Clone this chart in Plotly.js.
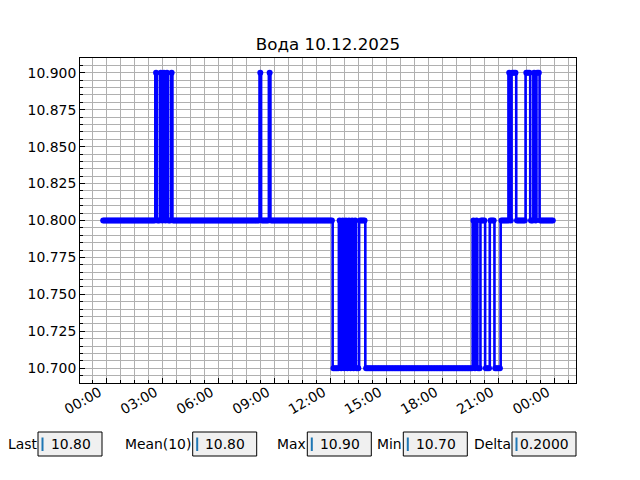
<!DOCTYPE html>
<html>
<head>
<meta charset="utf-8">
<script src="https://cdn.plot.ly/plotly-3.0.1.min.js"></script>
<style>html,body{margin:0;padding:0;background:#fff;}#chart{width:640px;height:480px;}</style>
</head>
<body>
<div id="chart"></div>
<script>
// ---- data ----
const chartTitle = 'Вода 10.12.2025';
const sampleStart = '2025-12-09T23:50:00Z';   // first reading
const sampleStepMinutes = 5;                   // logging interval
// water level readings, one row per hour (12 readings)
const levels = [
  10.8,10.8,10.8,10.8,10.8,10.8,10.8,10.8,10.8,10.8,10.8,10.8,
  10.8,10.8,10.8,10.8,10.8,10.8,10.8,10.8,10.8,10.8,10.8,10.8,
  10.8,10.8,10.8,10.8,10.8,10.8,10.8,10.8,10.8,10.8,10.9,10.8,
  10.8,10.9,10.8,10.9,10.8,10.9,10.8,10.8,10.9,10.8,10.8,10.8,
  10.8,10.8,10.8,10.8,10.8,10.8,10.8,10.8,10.8,10.8,10.8,10.8,
  10.8,10.8,10.8,10.8,10.8,10.8,10.8,10.8,10.8,10.8,10.8,10.8,
  10.8,10.8,10.8,10.8,10.8,10.8,10.8,10.8,10.8,10.8,10.8,10.8,
  10.8,10.8,10.8,10.8,10.8,10.8,10.8,10.8,10.8,10.8,10.8,10.8,
  10.8,10.8,10.8,10.8,10.8,10.9,10.8,10.8,10.8,10.8,10.8,10.9,
  10.8,10.8,10.8,10.8,10.8,10.8,10.8,10.8,10.8,10.8,10.8,10.8,
  10.8,10.8,10.8,10.8,10.8,10.8,10.8,10.8,10.8,10.8,10.8,10.8,
  10.8,10.8,10.8,10.8,10.8,10.8,10.8,10.8,10.8,10.8,10.8,10.8,
  10.8,10.8,10.8,10.8,10.7,10.7,10.7,10.7,10.8,10.7,10.8,10.7,
  10.8,10.7,10.8,10.7,10.8,10.7,10.8,10.7,10.7,10.8,10.8,10.8,
  10.8,10.7,10.7,10.7,10.7,10.7,10.7,10.7,10.7,10.7,10.7,10.7,
  10.7,10.7,10.7,10.7,10.7,10.7,10.7,10.7,10.7,10.7,10.7,10.7,
  10.7,10.7,10.7,10.7,10.7,10.7,10.7,10.7,10.7,10.7,10.7,10.7,
  10.7,10.7,10.7,10.7,10.7,10.7,10.7,10.7,10.7,10.7,10.7,10.7,
  10.7,10.7,10.7,10.7,10.7,10.7,10.7,10.7,10.7,10.7,10.7,10.7,
  10.7,10.7,10.7,10.7,10.7,10.7,10.7,10.7,10.7,10.7,10.8,10.7,
  10.8,10.7,10.7,10.8,10.8,10.8,10.7,10.7,10.7,10.8,10.8,10.8,
  10.7,10.7,10.7,10.7,10.8,10.8,10.8,10.8,10.8,10.9,10.8,10.9,
  10.9,10.9,10.8,10.8,10.8,10.8,10.8,10.8,10.9,10.9,10.9,10.8,
  10.8,10.9,10.8,10.9,10.9,10.8,10.8,10.8,10.8,10.8,10.8,10.8,
  10.8,10.8
];
const yTickFormat = '.3f';
const widgetLabels = ['Last', 'Mean(10)', 'Max', 'Min', 'Delta'];
const widgetValues = ['10.80', '10.80', '10.90', '10.70', '0.2000'];

// ---- build timestamps for the readings ----
const t0 = Date.parse(sampleStart);
const times = levels.map((_, i) =>
  new Date(t0 + i * sampleStepMinutes * 60000).toISOString().replace('T', ' ').slice(0, 19));

// ---- layout geometry (pixels) ----
const W = 640, H = 480;
const L = 80, R = 576, T = 58, B = 383;
const px = x => (x - L) / (R - L);
const py = y => (B - y) / (B - T);
const boxLeft = [38, 192.7, 307.3, 403.3, 512];
const boxW = 64, boxTop = 432, boxBot = 456;
const FONT = 'DejaVu Sans, Verdana, sans-serif';

const shapes = [];
const annotations = [];
widgetLabels.forEach((lab, k) => {
  const x0 = boxLeft[k];
  shapes.push({type: 'rect', xref: 'paper', yref: 'paper',
    x0: px(x0), x1: px(x0 + boxW), y0: py(boxBot), y1: py(boxTop),
    fillcolor: '#f0f0f0', line: {color: '#000', width: 1}, layer: 'above'});
  shapes.push({type: 'line', xref: 'paper', yref: 'paper',
    x0: px(x0 + 4.5), x1: px(x0 + 4.5), y0: py(451), y1: py(437.5),
    line: {color: '#1f77b4', width: 2}, layer: 'above'});
  annotations.push({xref: 'paper', yref: 'paper', x: px(x0 + 0.5), y: py(444),
    xanchor: 'right', yanchor: 'middle', text: lab, showarrow: false,
    font: {family: FONT, size: 13.9, color: '#000'}});
  annotations.push({xref: 'paper', yref: 'paper', x: px(x0 + boxW / 2 + 0.5), y: py(444),
    xanchor: 'center', yanchor: 'middle', text: widgetValues[k], showarrow: false,
    font: {family: FONT, size: 13.9, color: '#000'}});
});

const trace = {
  type: 'scatter', mode: 'lines+markers',
  x: times, y: levels,
  line: {color: '#0000ff', width: 2.6, shape: 'hvh', simplify: false},
  marker: {color: '#0000ff', size: 6},
  hoverinfo: 'x+y'
};

const gridCol = '#b0b0b0';
const layout = {
  width: W, height: H, autosize: false,
  margin: {l: L, r: W - R, t: T, b: H - B, pad: 0},
  paper_bgcolor: '#fff', plot_bgcolor: '#fff',
  font: {family: FONT, size: 13.9, color: '#000'},
  showlegend: false,
  title: {text: chartTitle, font: {family: FONT, size: 16.7, color: '#000'},
    x: 0.5, xref: 'paper', xanchor: 'center', y: 1 - 44 / H, yref: 'container', yanchor: 'middle'},
  xaxis: {
    type: 'date', range: ['2025-12-09 22:35:30', '2025-12-11 01:09:36'],
    tickformat: '%H:%M', tick0: '2025-12-10 00:00', dtick: 10800000,
    tickangle: -30, ticks: 'inside', ticklen: 5, tickwidth: 1, tickcolor: '#000',
    ticklabelstandoff: -5, ticklabelshift: -7,
    showline: true, linecolor: '#000', linewidth: 1, mirror: true,
    showgrid: true, gridcolor: gridCol, gridwidth: 1, zeroline: false,
    tickfont: {family: FONT, size: 13.9, color: '#000'},
    minor: {tick0: '2025-12-10 00:00', dtick: 2700000, ticks: 'inside', ticklen: 3,
      tickwidth: 1, tickcolor: '#000', showgrid: true, gridcolor: gridCol, gridwidth: 1}
  },
  yaxis: {
    range: [10.69, 10.91], tick0: 10.7, dtick: 0.025, tickformat: yTickFormat,
    ticks: 'inside', ticklen: 5, tickwidth: 1, tickcolor: '#000',
    showline: true, linecolor: '#000', linewidth: 1, mirror: true,
    showgrid: true, gridcolor: gridCol, gridwidth: 1, zeroline: false,
    tickfont: {family: FONT, size: 13.9, color: '#000'},
    minor: {tick0: 10.7, dtick: 0.005, ticks: 'inside', ticklen: 3,
      tickwidth: 1, tickcolor: '#000', showgrid: true, gridcolor: gridCol, gridwidth: 1}
  },
  shapes: shapes,
  annotations: annotations
};

Plotly.newPlot('chart', [trace], layout, {staticPlot: true, displayModeBar: false});
</script>
</body>
</html>
